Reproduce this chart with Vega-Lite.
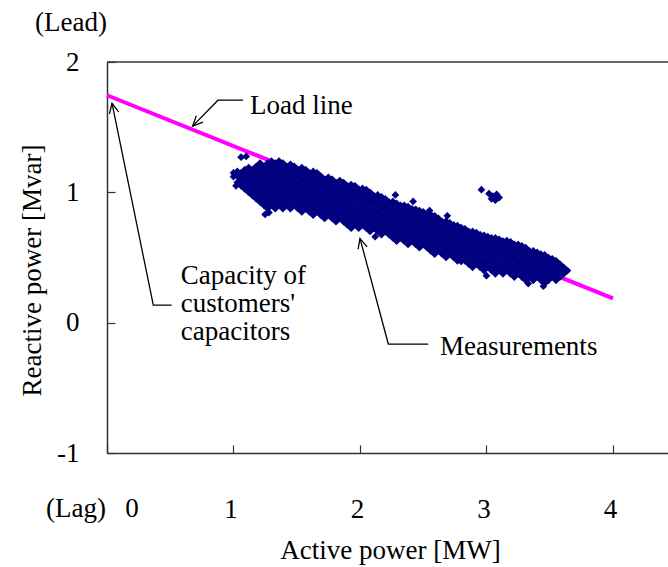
{
"$schema": "https://vega.github.io/schema/vega-lite/v6.json",
"width": 561, "height": 391,
"autosize": {"type": "none"},
"padding": {"left": 107, "top": 62, "right": 0, "bottom": 114},
"background": "white",
"config": {"view": {"stroke": null}, "font": "Liberation Serif"},
"datasets": {
"loadline": [{"P":0,"Q":1.745},{"P":4,"Q":0.186}],
"frame": [{"P":0,"Q":2},{"P":4.435,"Q":2}],
"arrows": [
{"id":"ls","k":1,"P":1.075,"Q":1.707},{"id":"ls","k":2,"P":0.877,"Q":1.707},{"id":"ls","k":3,"P":0.677,"Q":1.508},
{"id":"lh","k":1,"P":0.759,"Q":1.538},{"id":"lh","k":2,"P":0.677,"Q":1.508},{"id":"lh","k":3,"P":0.706,"Q":1.587},
{"id":"cs","k":1,"P":0.511,"Q":0.135},{"id":"cs","k":2,"P":0.366,"Q":0.135},{"id":"cs","k":3,"P":0.0395,"Q":1.684},
{"id":"ch","k":1,"P":0.0917,"Q":1.617},{"id":"ch","k":2,"P":0.0395,"Q":1.684},{"id":"ch","k":3,"P":0.0198,"Q":1.602},
{"id":"ms","k":1,"P":2.54,"Q":-0.164},{"id":"ms","k":2,"P":2.224,"Q":-0.164},{"id":"ms","k":3,"P":2.0,"Q":0.6465},
{"id":"mh","k":1,"P":2.056,"Q":0.582},{"id":"mh","k":2,"P":2.0,"Q":0.6465},{"id":"mh","k":3,"P":1.985,"Q":0.564}
],
"labels": [
{"label":"Load line","P":1.13,"Q":1.60},
{"label":"Capacity of","P":0.583,"Q":0.296},
{"label":"customers'","P":0.583,"Q":0.081},
{"label":"capacitors","P":0.583,"Q":-0.134},
{"label":"Measurements","P":2.632,"Q":-0.248},
{"label":"(Lead)","P":-0.569,"Q":2.236},
{"label":"(Lag)","P":-0.482,"Q":-1.491},
{"label":"0","P":0.145,"Q":-1.491}
],
"meas": [
{"P":1.00,"Q":1.12},{"P":1.00,"Q":1.15},
{"P":1.03,"Q":1.075},{"P":1.03,"Q":1.125},{"P":1.03,"Q":1.16},
{"P":1.06,"Q":1.05},{"P":1.06,"Q":1.10},{"P":1.06,"Q":1.15},
{"P":1.09,"Q":1.025},{"P":1.09,"Q":1.075},{"P":1.09,"Q":1.125},{"P":1.09,"Q":1.175},
{"P":1.12,"Q":1.00},{"P":1.12,"Q":1.05},{"P":1.12,"Q":1.10},{"P":1.12,"Q":1.15},{"P":1.12,"Q":1.19},
{"P":1.15,"Q":0.975},{"P":1.15,"Q":1.025},{"P":1.15,"Q":1.075},{"P":1.15,"Q":1.125},{"P":1.15,"Q":1.175},
{"P":1.18,"Q":0.95},{"P":1.18,"Q":1.00},{"P":1.18,"Q":1.05},{"P":1.18,"Q":1.10},{"P":1.18,"Q":1.15},{"P":1.18,"Q":1.20},
{"P":1.21,"Q":0.925},{"P":1.21,"Q":0.975},{"P":1.21,"Q":1.025},{"P":1.21,"Q":1.075},{"P":1.21,"Q":1.125},{"P":1.21,"Q":1.175},{"P":1.21,"Q":1.225},
{"P":1.24,"Q":0.90},{"P":1.24,"Q":0.95},{"P":1.24,"Q":1.00},{"P":1.24,"Q":1.05},{"P":1.24,"Q":1.10},{"P":1.24,"Q":1.15},{"P":1.24,"Q":1.20},
{"P":1.27,"Q":0.875},{"P":1.27,"Q":0.925},{"P":1.27,"Q":0.975},{"P":1.27,"Q":1.025},{"P":1.27,"Q":1.075},{"P":1.27,"Q":1.125},{"P":1.27,"Q":1.175},{"P":1.27,"Q":1.225},
{"P":1.30,"Q":0.90},{"P":1.30,"Q":0.95},{"P":1.30,"Q":1.00},{"P":1.30,"Q":1.05},{"P":1.30,"Q":1.10},{"P":1.30,"Q":1.15},{"P":1.30,"Q":1.20},{"P":1.30,"Q":1.24},
{"P":1.33,"Q":0.875},{"P":1.33,"Q":0.925},{"P":1.33,"Q":0.975},{"P":1.33,"Q":1.025},{"P":1.33,"Q":1.075},{"P":1.33,"Q":1.125},{"P":1.33,"Q":1.175},{"P":1.33,"Q":1.225},
{"P":1.36,"Q":0.90},{"P":1.36,"Q":0.95},{"P":1.36,"Q":1.00},{"P":1.36,"Q":1.05},{"P":1.36,"Q":1.10},{"P":1.36,"Q":1.15},{"P":1.36,"Q":1.20},{"P":1.36,"Q":1.24},
{"P":1.39,"Q":0.875},{"P":1.39,"Q":0.925},{"P":1.39,"Q":0.975},{"P":1.39,"Q":1.025},{"P":1.39,"Q":1.075},{"P":1.39,"Q":1.125},{"P":1.39,"Q":1.175},{"P":1.39,"Q":1.225},
{"P":1.42,"Q":0.90},{"P":1.42,"Q":0.95},{"P":1.42,"Q":1.00},{"P":1.42,"Q":1.05},{"P":1.42,"Q":1.10},{"P":1.42,"Q":1.15},{"P":1.42,"Q":1.20},
{"P":1.45,"Q":0.875},{"P":1.45,"Q":0.925},{"P":1.45,"Q":0.975},{"P":1.45,"Q":1.025},{"P":1.45,"Q":1.075},{"P":1.45,"Q":1.125},{"P":1.45,"Q":1.175},{"P":1.45,"Q":1.215},
{"P":1.48,"Q":0.90},{"P":1.48,"Q":0.95},{"P":1.48,"Q":1.00},{"P":1.48,"Q":1.05},{"P":1.48,"Q":1.10},{"P":1.48,"Q":1.15},{"P":1.48,"Q":1.20},
{"P":1.51,"Q":0.875},{"P":1.51,"Q":0.925},{"P":1.51,"Q":0.975},{"P":1.51,"Q":1.025},{"P":1.51,"Q":1.075},{"P":1.51,"Q":1.125},{"P":1.51,"Q":1.175},
{"P":1.54,"Q":0.85},{"P":1.54,"Q":0.90},{"P":1.54,"Q":0.95},{"P":1.54,"Q":1.00},{"P":1.54,"Q":1.05},{"P":1.54,"Q":1.10},{"P":1.54,"Q":1.15},{"P":1.54,"Q":1.19},
{"P":1.57,"Q":0.875},{"P":1.57,"Q":0.925},{"P":1.57,"Q":0.975},{"P":1.57,"Q":1.025},{"P":1.57,"Q":1.075},{"P":1.57,"Q":1.125},{"P":1.57,"Q":1.175},
{"P":1.60,"Q":0.85},{"P":1.60,"Q":0.90},{"P":1.60,"Q":0.95},{"P":1.60,"Q":1.00},{"P":1.60,"Q":1.05},{"P":1.60,"Q":1.10},{"P":1.60,"Q":1.15},
{"P":1.63,"Q":0.825},{"P":1.63,"Q":0.875},{"P":1.63,"Q":0.925},{"P":1.63,"Q":0.975},{"P":1.63,"Q":1.025},{"P":1.63,"Q":1.075},{"P":1.63,"Q":1.125},{"P":1.63,"Q":1.16},
{"P":1.66,"Q":0.85},{"P":1.66,"Q":0.90},{"P":1.66,"Q":0.95},{"P":1.66,"Q":1.00},{"P":1.66,"Q":1.05},{"P":1.66,"Q":1.10},{"P":1.66,"Q":1.15},
{"P":1.69,"Q":0.825},{"P":1.69,"Q":0.875},{"P":1.69,"Q":0.925},{"P":1.69,"Q":0.975},{"P":1.69,"Q":1.025},{"P":1.69,"Q":1.075},{"P":1.69,"Q":1.125},
{"P":1.72,"Q":0.80},{"P":1.72,"Q":0.85},{"P":1.72,"Q":0.90},{"P":1.72,"Q":0.95},{"P":1.72,"Q":1.00},{"P":1.72,"Q":1.05},{"P":1.72,"Q":1.10},
{"P":1.75,"Q":0.825},{"P":1.75,"Q":0.875},{"P":1.75,"Q":0.925},{"P":1.75,"Q":0.975},{"P":1.75,"Q":1.025},{"P":1.75,"Q":1.075},{"P":1.75,"Q":1.115},
{"P":1.78,"Q":0.80},{"P":1.78,"Q":0.85},{"P":1.78,"Q":0.90},{"P":1.78,"Q":0.95},{"P":1.78,"Q":1.00},{"P":1.78,"Q":1.05},{"P":1.78,"Q":1.10},
{"P":1.81,"Q":0.775},{"P":1.81,"Q":0.825},{"P":1.81,"Q":0.875},{"P":1.81,"Q":0.925},{"P":1.81,"Q":0.975},{"P":1.81,"Q":1.025},{"P":1.81,"Q":1.075},
{"P":1.84,"Q":0.80},{"P":1.84,"Q":0.85},{"P":1.84,"Q":0.90},{"P":1.84,"Q":0.95},{"P":1.84,"Q":1.00},{"P":1.84,"Q":1.05},{"P":1.84,"Q":1.09},
{"P":1.87,"Q":0.775},{"P":1.87,"Q":0.825},{"P":1.87,"Q":0.875},{"P":1.87,"Q":0.925},{"P":1.87,"Q":0.975},{"P":1.87,"Q":1.025},{"P":1.87,"Q":1.075},
{"P":1.90,"Q":0.75},{"P":1.90,"Q":0.80},{"P":1.90,"Q":0.85},{"P":1.90,"Q":0.90},{"P":1.90,"Q":0.95},{"P":1.90,"Q":1.00},{"P":1.90,"Q":1.05},
{"P":1.93,"Q":0.725},{"P":1.93,"Q":0.775},{"P":1.93,"Q":0.825},{"P":1.93,"Q":0.875},{"P":1.93,"Q":0.925},{"P":1.93,"Q":0.975},{"P":1.93,"Q":1.025},{"P":1.93,"Q":1.06},
{"P":1.96,"Q":0.75},{"P":1.96,"Q":0.80},{"P":1.96,"Q":0.85},{"P":1.96,"Q":0.90},{"P":1.96,"Q":0.95},{"P":1.96,"Q":1.00},{"P":1.96,"Q":1.05},
{"P":1.99,"Q":0.725},{"P":1.99,"Q":0.775},{"P":1.99,"Q":0.825},{"P":1.99,"Q":0.875},{"P":1.99,"Q":0.925},{"P":1.99,"Q":0.975},{"P":1.99,"Q":1.025},
{"P":2.02,"Q":0.75},{"P":2.02,"Q":0.80},{"P":2.02,"Q":0.85},{"P":2.02,"Q":0.90},{"P":2.02,"Q":0.95},{"P":2.02,"Q":1.00},{"P":2.02,"Q":1.03},
{"P":2.05,"Q":0.725},{"P":2.05,"Q":0.775},{"P":2.05,"Q":0.825},{"P":2.05,"Q":0.875},{"P":2.05,"Q":0.925},{"P":2.05,"Q":0.975},{"P":2.05,"Q":1.02},
{"P":2.08,"Q":0.70},{"P":2.08,"Q":0.75},{"P":2.08,"Q":0.80},{"P":2.08,"Q":0.85},{"P":2.08,"Q":0.90},{"P":2.08,"Q":0.95},{"P":2.08,"Q":1.00},
{"P":2.11,"Q":0.725},{"P":2.11,"Q":0.775},{"P":2.11,"Q":0.825},{"P":2.11,"Q":0.875},{"P":2.11,"Q":0.925},{"P":2.11,"Q":0.975},
{"P":2.14,"Q":0.70},{"P":2.14,"Q":0.75},{"P":2.14,"Q":0.80},{"P":2.14,"Q":0.85},{"P":2.14,"Q":0.90},{"P":2.14,"Q":0.95},{"P":2.14,"Q":0.98},
{"P":2.17,"Q":0.675},{"P":2.17,"Q":0.725},{"P":2.17,"Q":0.775},{"P":2.17,"Q":0.825},{"P":2.17,"Q":0.875},{"P":2.17,"Q":0.925},{"P":2.17,"Q":0.965},
{"P":2.20,"Q":0.70},{"P":2.20,"Q":0.75},{"P":2.20,"Q":0.80},{"P":2.20,"Q":0.85},{"P":2.20,"Q":0.90},{"P":2.20,"Q":0.95},
{"P":2.23,"Q":0.675},{"P":2.23,"Q":0.725},{"P":2.23,"Q":0.775},{"P":2.23,"Q":0.825},{"P":2.23,"Q":0.875},{"P":2.23,"Q":0.925},
{"P":2.26,"Q":0.65},{"P":2.26,"Q":0.70},{"P":2.26,"Q":0.75},{"P":2.26,"Q":0.80},{"P":2.26,"Q":0.85},{"P":2.26,"Q":0.90},{"P":2.26,"Q":0.93},
{"P":2.29,"Q":0.625},{"P":2.29,"Q":0.675},{"P":2.29,"Q":0.725},{"P":2.29,"Q":0.775},{"P":2.29,"Q":0.825},{"P":2.29,"Q":0.875},{"P":2.29,"Q":0.915},
{"P":2.32,"Q":0.65},{"P":2.32,"Q":0.70},{"P":2.32,"Q":0.75},{"P":2.32,"Q":0.80},{"P":2.32,"Q":0.85},{"P":2.32,"Q":0.90},
{"P":2.35,"Q":0.625},{"P":2.35,"Q":0.675},{"P":2.35,"Q":0.725},{"P":2.35,"Q":0.775},{"P":2.35,"Q":0.825},{"P":2.35,"Q":0.875},{"P":2.35,"Q":0.90},
{"P":2.38,"Q":0.60},{"P":2.38,"Q":0.65},{"P":2.38,"Q":0.70},{"P":2.38,"Q":0.75},{"P":2.38,"Q":0.80},{"P":2.38,"Q":0.85},{"P":2.38,"Q":0.89},
{"P":2.41,"Q":0.625},{"P":2.41,"Q":0.675},{"P":2.41,"Q":0.725},{"P":2.41,"Q":0.775},{"P":2.41,"Q":0.825},{"P":2.41,"Q":0.875},
{"P":2.44,"Q":0.60},{"P":2.44,"Q":0.65},{"P":2.44,"Q":0.70},{"P":2.44,"Q":0.75},{"P":2.44,"Q":0.80},{"P":2.44,"Q":0.85},{"P":2.44,"Q":0.87},
{"P":2.47,"Q":0.575},{"P":2.47,"Q":0.625},{"P":2.47,"Q":0.675},{"P":2.47,"Q":0.725},{"P":2.47,"Q":0.775},{"P":2.47,"Q":0.825},{"P":2.47,"Q":0.86},
{"P":2.50,"Q":0.60},{"P":2.50,"Q":0.65},{"P":2.50,"Q":0.70},{"P":2.50,"Q":0.75},{"P":2.50,"Q":0.80},{"P":2.50,"Q":0.85},
{"P":2.53,"Q":0.575},{"P":2.53,"Q":0.625},{"P":2.53,"Q":0.675},{"P":2.53,"Q":0.725},{"P":2.53,"Q":0.775},{"P":2.53,"Q":0.825},
{"P":2.56,"Q":0.55},{"P":2.56,"Q":0.60},{"P":2.56,"Q":0.65},{"P":2.56,"Q":0.70},{"P":2.56,"Q":0.75},{"P":2.56,"Q":0.80},{"P":2.56,"Q":0.83},
{"P":2.59,"Q":0.525},{"P":2.59,"Q":0.575},{"P":2.59,"Q":0.625},{"P":2.59,"Q":0.675},{"P":2.59,"Q":0.725},{"P":2.59,"Q":0.775},{"P":2.59,"Q":0.82},
{"P":2.62,"Q":0.55},{"P":2.62,"Q":0.60},{"P":2.62,"Q":0.65},{"P":2.62,"Q":0.70},{"P":2.62,"Q":0.75},{"P":2.62,"Q":0.80},
{"P":2.65,"Q":0.525},{"P":2.65,"Q":0.575},{"P":2.65,"Q":0.625},{"P":2.65,"Q":0.675},{"P":2.65,"Q":0.725},{"P":2.65,"Q":0.775},
{"P":2.68,"Q":0.50},{"P":2.68,"Q":0.55},{"P":2.68,"Q":0.60},{"P":2.68,"Q":0.65},{"P":2.68,"Q":0.70},{"P":2.68,"Q":0.75},{"P":2.68,"Q":0.78},
{"P":2.71,"Q":0.525},{"P":2.71,"Q":0.575},{"P":2.71,"Q":0.625},{"P":2.71,"Q":0.675},{"P":2.71,"Q":0.725},{"P":2.71,"Q":0.765},
{"P":2.74,"Q":0.50},{"P":2.74,"Q":0.55},{"P":2.74,"Q":0.60},{"P":2.74,"Q":0.65},{"P":2.74,"Q":0.70},{"P":2.74,"Q":0.75},
{"P":2.77,"Q":0.475},{"P":2.77,"Q":0.525},{"P":2.77,"Q":0.575},{"P":2.77,"Q":0.625},{"P":2.77,"Q":0.675},{"P":2.77,"Q":0.725},{"P":2.77,"Q":0.745},
{"P":2.80,"Q":0.47},{"P":2.80,"Q":0.50},{"P":2.80,"Q":0.55},{"P":2.80,"Q":0.60},{"P":2.80,"Q":0.65},{"P":2.80,"Q":0.70},{"P":2.80,"Q":0.73},
{"P":2.83,"Q":0.475},{"P":2.83,"Q":0.525},{"P":2.83,"Q":0.575},{"P":2.83,"Q":0.625},{"P":2.83,"Q":0.675},{"P":2.83,"Q":0.72},
{"P":2.86,"Q":0.45},{"P":2.86,"Q":0.50},{"P":2.86,"Q":0.55},{"P":2.86,"Q":0.60},{"P":2.86,"Q":0.65},{"P":2.86,"Q":0.70},
{"P":2.89,"Q":0.425},{"P":2.89,"Q":0.475},{"P":2.89,"Q":0.525},{"P":2.89,"Q":0.575},{"P":2.89,"Q":0.625},{"P":2.89,"Q":0.675},{"P":2.89,"Q":0.70},
{"P":2.92,"Q":0.45},{"P":2.92,"Q":0.50},{"P":2.92,"Q":0.55},{"P":2.92,"Q":0.60},{"P":2.92,"Q":0.65},{"P":2.92,"Q":0.69},
{"P":2.95,"Q":0.425},{"P":2.95,"Q":0.475},{"P":2.95,"Q":0.525},{"P":2.95,"Q":0.575},{"P":2.95,"Q":0.625},{"P":2.95,"Q":0.675},
{"P":2.98,"Q":0.40},{"P":2.98,"Q":0.45},{"P":2.98,"Q":0.50},{"P":2.98,"Q":0.55},{"P":2.98,"Q":0.60},{"P":2.98,"Q":0.65},{"P":2.98,"Q":0.67},
{"P":3.01,"Q":0.425},{"P":3.01,"Q":0.475},{"P":3.01,"Q":0.525},{"P":3.01,"Q":0.575},{"P":3.01,"Q":0.625},{"P":3.01,"Q":0.66},
{"P":3.04,"Q":0.40},{"P":3.04,"Q":0.45},{"P":3.04,"Q":0.50},{"P":3.04,"Q":0.55},{"P":3.04,"Q":0.60},{"P":3.04,"Q":0.65},
{"P":3.07,"Q":0.375},{"P":3.07,"Q":0.425},{"P":3.07,"Q":0.475},{"P":3.07,"Q":0.525},{"P":3.07,"Q":0.575},{"P":3.07,"Q":0.625},{"P":3.07,"Q":0.65},
{"P":3.10,"Q":0.40},{"P":3.10,"Q":0.45},{"P":3.10,"Q":0.50},{"P":3.10,"Q":0.55},{"P":3.10,"Q":0.60},{"P":3.10,"Q":0.64},
{"P":3.13,"Q":0.375},{"P":3.13,"Q":0.425},{"P":3.13,"Q":0.475},{"P":3.13,"Q":0.525},{"P":3.13,"Q":0.575},{"P":3.13,"Q":0.625},
{"P":3.16,"Q":0.40},{"P":3.16,"Q":0.45},{"P":3.16,"Q":0.50},{"P":3.16,"Q":0.55},{"P":3.16,"Q":0.60},{"P":3.16,"Q":0.63},
{"P":3.19,"Q":0.375},{"P":3.19,"Q":0.425},{"P":3.19,"Q":0.475},{"P":3.19,"Q":0.525},{"P":3.19,"Q":0.575},{"P":3.19,"Q":0.62},
{"P":3.22,"Q":0.35},{"P":3.22,"Q":0.40},{"P":3.22,"Q":0.45},{"P":3.22,"Q":0.50},{"P":3.22,"Q":0.55},{"P":3.22,"Q":0.60},
{"P":3.25,"Q":0.375},{"P":3.25,"Q":0.425},{"P":3.25,"Q":0.475},{"P":3.25,"Q":0.525},{"P":3.25,"Q":0.575},{"P":3.25,"Q":0.60},
{"P":3.28,"Q":0.35},{"P":3.28,"Q":0.40},{"P":3.28,"Q":0.45},{"P":3.28,"Q":0.50},{"P":3.28,"Q":0.55},{"P":3.28,"Q":0.59},
{"P":3.31,"Q":0.325},{"P":3.31,"Q":0.375},{"P":3.31,"Q":0.425},{"P":3.31,"Q":0.475},{"P":3.31,"Q":0.525},{"P":3.31,"Q":0.575},
{"P":3.34,"Q":0.35},{"P":3.34,"Q":0.40},{"P":3.34,"Q":0.45},{"P":3.34,"Q":0.50},{"P":3.34,"Q":0.55},
{"P":3.37,"Q":0.325},{"P":3.37,"Q":0.375},{"P":3.37,"Q":0.425},{"P":3.37,"Q":0.475},{"P":3.37,"Q":0.525},{"P":3.37,"Q":0.55},
{"P":3.40,"Q":0.35},{"P":3.40,"Q":0.40},{"P":3.40,"Q":0.45},{"P":3.40,"Q":0.50},{"P":3.40,"Q":0.54},
{"P":3.43,"Q":0.325},{"P":3.43,"Q":0.375},{"P":3.43,"Q":0.425},{"P":3.43,"Q":0.475},{"P":3.43,"Q":0.525},
{"P":3.46,"Q":0.30},{"P":3.46,"Q":0.35},{"P":3.46,"Q":0.40},{"P":3.46,"Q":0.45},{"P":3.46,"Q":0.50},{"P":3.46,"Q":0.52},
{"P":3.49,"Q":0.325},{"P":3.49,"Q":0.375},{"P":3.49,"Q":0.425},{"P":3.49,"Q":0.475},{"P":3.49,"Q":0.50},
{"P":3.52,"Q":0.35},{"P":3.52,"Q":0.40},{"P":3.52,"Q":0.45},{"P":3.52,"Q":0.49},
{"P":3.55,"Q":0.325},{"P":3.55,"Q":0.375},{"P":3.55,"Q":0.425},{"P":3.55,"Q":0.475},
{"P":3.58,"Q":0.35},{"P":3.58,"Q":0.40},{"P":3.58,"Q":0.45},
{"P":3.61,"Q":0.375},{"P":3.61,"Q":0.425},
{"P":3.64,"Q":0.40},
{"P":1.06,"Q":1.27},{"P":1.10,"Q":1.275},{"P":1.02,"Q":1.05},{"P":1.25,"Q":0.83},{"P":1.28,"Q":0.845},
{"P":2.28,"Q":0.98},{"P":2.42,"Q":0.93},{"P":2.55,"Q":0.86},{"P":2.69,"Q":0.82},
{"P":2.96,"Q":1.02},{"P":3.02,"Q":0.99},{"P":3.05,"Q":0.97},{"P":3.08,"Q":0.985},{"P":3.04,"Q":0.95},{"P":3.07,"Q":0.94},{"P":3.10,"Q":0.96},
{"P":3.00,"Q":0.36},{"P":3.33,"Q":0.30},{"P":3.45,"Q":0.28},{"P":2.12,"Q":0.66}
]
},
"encoding": {
"x": {"field": "P", "type": "quantitative",
 "scale": {"domain": [0, 4.435], "nice": false, "zero": false},
 "axis": {"values": [0,1,2,3,4], "labelExpr": "datum.value == 0 ? '' : datum.label", "grid": false,
  "tickSize": -8, "tickColor": "#333", "tickWidth": 1.2, "domainColor": "#333", "domainWidth": 1.5,
  "labelFont": "Liberation Serif", "labelFontSize": 27, "labelColor": "#000", "labelBaseline": "alphabetic",
  "labelPadding": 72, "labelOffset": -3, "labelFlush": false, "labelOverlap": false,
  "title": "Active power [MW]", "titleFont": "Liberation Serif", "titleFontSize": 27, "titleFontWeight": "normal",
  "titleColor": "#000", "titleX": 283, "titleY": 105, "titleBaseline": "alphabetic", "titleAlign": "center"}},
"y": {"field": "Q", "type": "quantitative",
 "scale": {"domain": [-1, 2], "nice": false, "zero": false},
 "axis": {"values": [-1,0,1,2], "labelExpr": "datum.value < 0 ? '-1' : datum.label", "grid": false,
  "tickSize": -8, "tickColor": "#333", "tickWidth": 1.2, "domainColor": "#333", "domainWidth": 1.5,
  "labelFont": "Liberation Serif", "labelFontSize": 27, "labelColor": "#000", "labelBaseline": "middle",
  "labelPadding": 36, "labelFlush": false, "labelOverlap": false,
  "title": "Reactive power [Mvar]", "titleFont": "Liberation Serif", "titleFontSize": 27, "titleFontWeight": "normal",
  "titleColor": "#000", "titleX": -67, "titleY": 208, "titleBaseline": "alphabetic", "titleAlign": "center"}}
},
"layer": [
{"data": {"name": "frame"}, "mark": {"type": "line", "color": "#333", "strokeWidth": 1.5}, "encoding": {}},
{"data": {"name": "loadline"}, "mark": {"type": "line", "color": "#FF00FF", "strokeWidth": 4}, "encoding": {}},
{"data": {"name": "meas"}, "mark": {"type": "point", "shape": "diamond", "filled": true, "size": 60, "color": "#000080", "opacity": 1}},
{"data": {"name": "arrows"}, "mark": {"type": "line", "color": "#000", "strokeWidth": 1.3},
 "encoding": {"detail": {"field": "id"}, "order": {"field": "k", "type": "quantitative"}}},
{"data": {"name": "labels"}, "mark": {"type": "text", "align": "left", "baseline": "alphabetic", "font": "Liberation Serif", "fontSize": 27, "color": "#000"},
 "encoding": {"text": {"field": "label"}}}
]
}
